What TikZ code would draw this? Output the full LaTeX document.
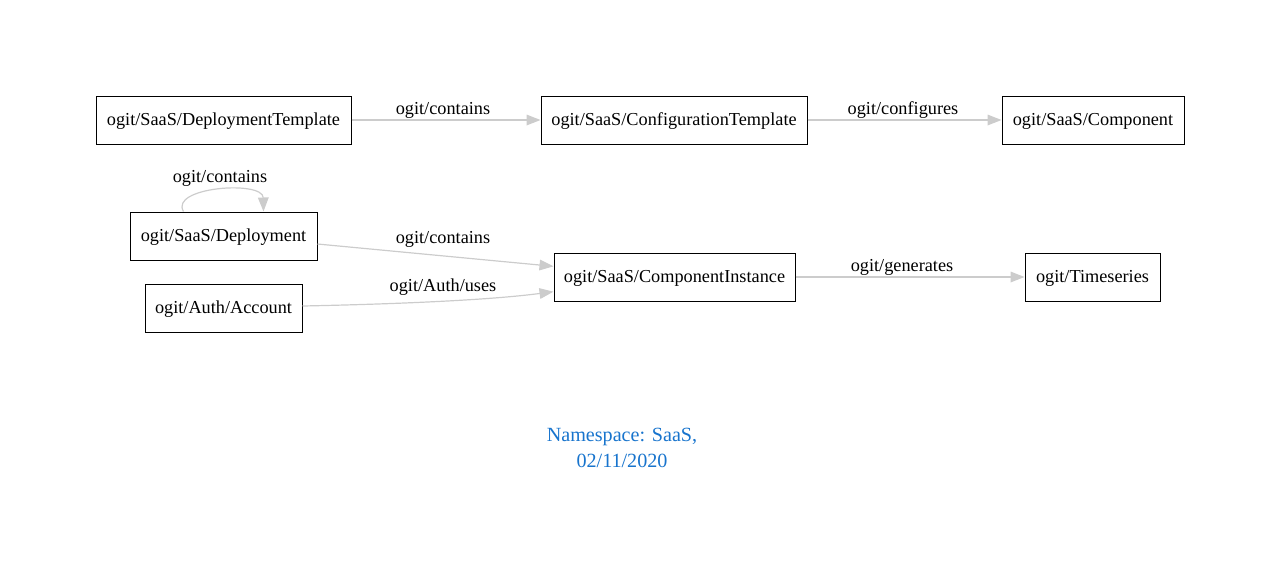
\documentclass[tikz,border=0pt]{standalone}
\usepackage{fontspec}
\setmainfont{Liberation Serif}
\usetikzlibrary{arrows.meta}
\definecolor{edgegray}{HTML}{CCCCCC}
\definecolor{nsblue}{HTML}{1874CD}
\begin{document}
\begin{tikzpicture}[x=0.75pt,y=-0.75pt,
  box/.style={draw=black,line width=0.75pt,minimum height=36pt,inner sep=0pt,text height=10pt,text depth=2.5pt,font=\fontsize{13.7}{16}\selectfont},
  rel/.style={draw=edgegray,line width=0.9pt,-{Triangle[length=10.5pt,width=8pt]}},
  lbl/.style={font=\fontsize{13.7}{16}\selectfont,inner sep=0pt}]
\useasboundingbox (0,0) rectangle (1280,576);
\node[box,minimum width=191.25pt] (dt) at (223.5,120) {ogit/SaaS/DeploymentTemplate};
\node[box,minimum width=199.5pt] (ct) at (674,120) {ogit/SaaS/ConfigurationTemplate};
\node[box,minimum width=136.5pt] (co) at (1093,120) {ogit/SaaS/Component};
\node[box,minimum width=140.25pt] (de) at (223.5,236) {ogit/SaaS/Deployment};
\node[box,minimum width=117.75pt] (ac) at (223.5,308) {ogit/Auth/Account};
\node[box,minimum width=180.75pt] (ci) at (674.5,277) {ogit/SaaS/ComponentInstance};
\node[box,minimum width=101.25pt] (ts) at (1092.5,277) {ogit/Timeseries};
\draw[rel] (dt) -- (ct);
\node[lbl] (l1) at (443,110) {ogit/contains};
\draw[rel] (ct) -- (co);
\node[lbl] (l4) at (903,110) {ogit/configures};
\draw[rel] (ci) -- (ts);
\node[lbl] (l5) at (902,267) {ogit/generates};
\draw[rel] ([xshift=-30pt]de.north) .. controls (169,187) and (263,180) .. ([xshift=30pt]de.north);
\node[lbl] (lself) at (220,178) {ogit/contains};
\draw[rel] ([yshift=-6pt]de.east) -- ([yshift=8pt]ci.west);
\node[lbl] (l2) at (443,239) {ogit/contains};
\draw[rel] ([yshift=1.5pt]ac.east) .. controls (400,304) and (490,300) .. ([yshift=-11pt]ci.west);
\node[lbl] (l3) at (443,287) {ogit/Auth/uses};
\node[align=center,text=nsblue,font=\fontsize{15.1}{20}\selectfont,inner sep=0pt] (ns) at (622,448) {Namespace: SaaS,\\02/11/2020};
\end{tikzpicture}
\end{document}
